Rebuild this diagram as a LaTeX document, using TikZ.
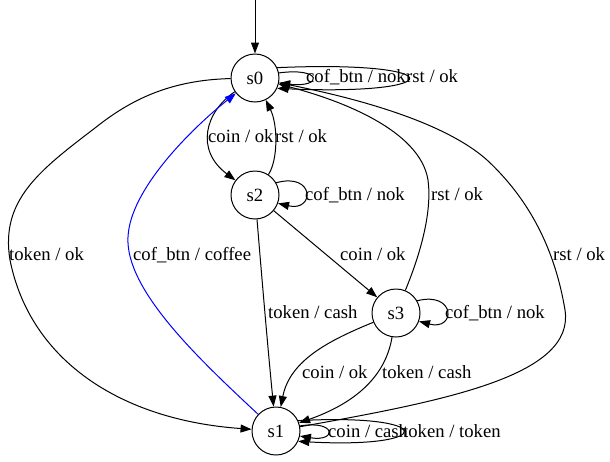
\documentclass[tikz,border=0pt]{standalone}
\usepackage{fontspec}
\setmainfont{Liberation Serif}
\newfontfamily\gvfont{Liberation Serif}
\usetikzlibrary{arrows.meta}
\begin{document}
\begin{tikzpicture}[x=1pt,y=-1pt,
  state/.style={draw, circle, line width=1pt, minimum size=48pt, inner sep=0pt, font=\gvfont\fontsize{18.67}{22}\selectfont},
  lbl/.style={inner sep=0pt, anchor=base west, font=\gvfont\fontsize{18.67}{22}\selectfont},
  edge/.style={line width=1pt, -{Triangle[length=11pt,width=8pt]}},
  bluedge/.style={edge, draw=blue, -{Triangle[length=11pt,width=8pt,fill=blue]}},
]
\useasboundingbox (0,0) rectangle (610,461);

\node[state] (s0) at (255,78) {s0};
\node[state] (s2) at (255,195) {s2};
\node[state] (s3) at (396,313) {s3};
\node[state] (s1) at (276,431) {s1};
\coordinate (start) at (255,0);

% start
\draw[edge] (start) -- (s0);
% s0 self loops
\draw[edge] (s0.12) .. controls (323,67) and (323,88) .. (s0.-12);
\draw[edge] (s0.25) .. controls (452,60) and (452,96) .. (s0.-25);
% s0 -> s2
\draw[edge] (s0) .. controls (205,112) and (195,150) .. (s2);
% s2 -> s0
\draw[edge] (s2) .. controls (278,160) and (278,125) .. (s0);
% s2 loop
\draw[edge] (s2.30) .. controls (315,172) and (315,212) .. (s2.-20);
% s2 -> s3
\draw[edge] (s2) -- (s3);
% s2 -> s1
\draw[edge] (s2) .. controls (262,280) and (268,350) .. (s1);
% s3 -> s0
\draw[edge] (s3) .. controls (422,250) and (432,210) .. (428,180) .. controls (420,130) and (340,100) .. (s0);
% s3 loop
\draw[edge] (s3.30) .. controls (456,291) and (456,331) .. (s3.-20);
% s3 -> s1
\draw[edge] (s3) .. controls (330,340) and (290,360) .. (s1);
\draw[edge] (s3) .. controls (385,380) and (350,405) .. (s1);
% s1 -> s0 (blue)
\draw[bluedge] (s1) .. controls (200,360) and (125,290) .. (128,237) .. controls (130,190) and (190,130) .. (s0);
% s0 -> s1 (left)
\draw[edge] (s0) .. controls (170,80) and (130,100) .. (95,128) .. controls (40,170) and (0,200) .. (10,260) .. controls (30,360) and (120,420) .. (s1);
% s1 -> s0 (right)
\draw[edge] (s1) .. controls (450,400) and (575,375) .. (565,310) .. controls (555,250) and (530,200) .. (487,160) .. controls (440,118) and (340,95) .. (s0);
% s1 loops
\draw[edge] (s1.12) .. controls (337,420) and (337,442) .. (s1.-12);
\draw[edge] (s1.25) .. controls (438,413) and (438,449) .. (s1.-25);

% labels
\node[lbl] (l1) at (306,82) {cof\_btn / nok};
\node[lbl] (l2) at (406,82) {rst / ok};
\node[lbl] (l3) at (208,142) {coin / ok};
\node[lbl] (l4) at (275,142) {rst / ok};
\node[lbl] (l5) at (305,200) {cof\_btn / nok};
\node[lbl] (l6) at (340,260) {coin / ok};
\node[lbl] (l7) at (268,318) {token / cash};
\node[lbl] (l8) at (431,200) {rst / ok};
\node[lbl] (l9) at (445,318) {cof\_btn / nok};
\node[lbl] (l10) at (553,260) {rst / ok};
\node[lbl] (l11) at (302,378) {coin / ok};
\node[lbl] (l12) at (382,378) {token / cash};
\node[lbl] (l13) at (328,437) {coin / cash};
\node[lbl] (l14) at (403,437) {token / token};
\node[lbl] (l15) at (9,260) {token / ok};
\node[lbl] (l16) at (133,260) {cof\_btn / coffee};
\end{tikzpicture}
\end{document}
